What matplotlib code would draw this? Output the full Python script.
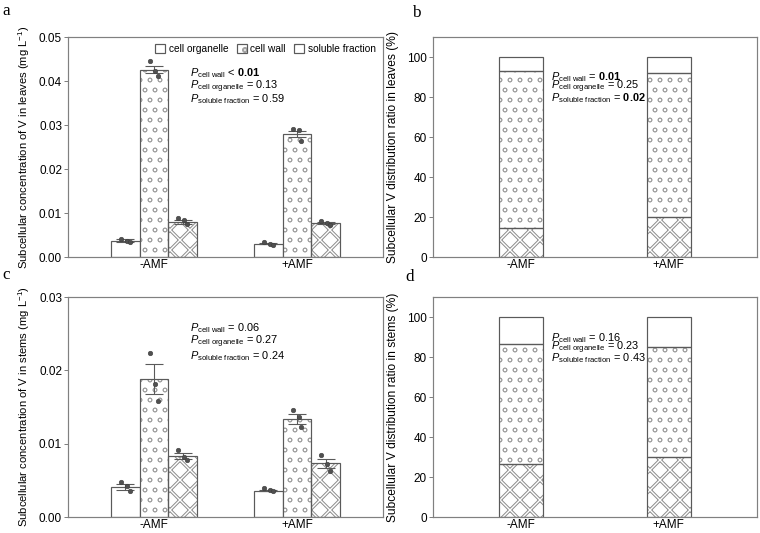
import numpy as np
import matplotlib
matplotlib.use("Agg")
import matplotlib.pyplot as plt
from matplotlib.legend_handler import HandlerTuple

plt.rcParams['font.family'] = ['Liberation Sans', 'DejaVu Sans']
plt.rcParams['mathtext.fontset'] = 'custom'
plt.rcParams['mathtext.rm'] = 'Liberation Sans'
plt.rcParams['mathtext.it'] = 'Liberation Sans:italic'
plt.rcParams['mathtext.bf'] = 'Liberation Sans:bold'

# ---------------- data ----------------
groups = ["-AMF", "+AMF"]
fractions = ["cell organelle", "cell wall", "soluble fraction"]

# panel a: leaves concentration (mg/L)
leaf_organelle = [0.0037, 0.0030]
leaf_wall = [0.0426, 0.0280]
leaf_soluble = [0.0080, 0.0077]
leaf_organelle_se = [0.0003, 0.0001]
leaf_wall_se = [0.0008, 0.0007]
leaf_soluble_se = [0.0004, 0.0002]
leaf_organelle_pts = [[0.0040, 0.0037, 0.0035], [0.0034, 0.0030, 0.0028]]
leaf_wall_pts = [[0.0445, 0.0422, 0.0411], [0.0292, 0.0289, 0.0264]]
leaf_soluble_pts = [[0.0088, 0.0083, 0.0075], [0.0082, 0.0078, 0.0072]]

# panel c: stems concentration (mg/L)
stem_organelle = [0.0041, 0.0036]
stem_wall = [0.0188, 0.0134]
stem_soluble = [0.0083, 0.0073]
stem_organelle_se = [0.0004, 0.0001]
stem_wall_se = [0.0020, 0.0007]
stem_soluble_se = [0.0004, 0.0006]
stem_organelle_pts = [[0.0048, 0.0042, 0.0035], [0.0039, 0.0037, 0.0035]]
stem_wall_pts = [[0.0224, 0.0181, 0.0158], [0.0146, 0.0136, 0.0123]]
stem_soluble_pts = [[0.0091, 0.0082, 0.0078], [0.0085, 0.0072, 0.0063]]

# panel b: leaves distribution ratio (%)
leaf_ratio_soluble = [14.5, 19.8]
leaf_ratio_wall = [78.6, 72.2]
leaf_ratio_organelle = [6.9, 8.0]

# panel d: stems distribution ratio (%)
stem_ratio_soluble = [26.6, 30.0]
stem_ratio_wall = [60.0, 55.0]
stem_ratio_organelle = [13.4, 15.0]

point_offsets = [-0.03, 0.01, 0.03]

p_a = [r"$P_{\mathrm{cell\ wall}}$ < $\mathbf{0.01}$",
       r"$P_{\mathrm{cell\ organelle}}$ = 0.13",
       r"$P_{\mathrm{soluble\ fraction}}$ = 0.59"]
p_b = [r"$P_{\mathrm{cell\ wall}}$ = $\mathbf{0.01}$",
       r"$P_{\mathrm{cell\ organelle}}$ = 0.25",
       r"$P_{\mathrm{soluble\ fraction}}$ = $\mathbf{0.02}$"]
p_c = [r"$P_{\mathrm{cell\ wall}}$ = 0.06",
       r"$P_{\mathrm{cell\ organelle}}$ = 0.27",
       r"$P_{\mathrm{soluble\ fraction}}$ = 0.24"]
p_d = [r"$P_{\mathrm{cell\ wall}}$ = 0.16",
       r"$P_{\mathrm{cell\ organelle}}$ = 0.23",
       r"$P_{\mathrm{soluble\ fraction}}$ = 0.43"]

# ---------------- style ----------------
DPI = 120
W, H = 760, 533


def P(px):
    """pixels -> points at the figure dpi"""
    return px * 72.0 / DPI


SPINE = '#808080'
EDGE = '#5a5a5a'
HATCH_X = '#8e8e8e'
HATCH_O = '#a4a4a4'
PT = '#505050'

fig = plt.figure(figsize=(W / DPI, H / DPI), dpi=DPI)


def ax_at(l, r, t, b):
    return fig.add_axes([l / W, (H - b) / H, (r - l) / W, (b - t) / H])


def set_hlw(patches, lw):
    for p in patches:
        if hasattr(p, 'set_hatch_linewidth'):
            p.set_hatch_linewidth(lw)


def draw_bar(ax, x, h, w, kind, bottom=None):
    if kind == 'organelle':
        b = ax.bar(x, h, w, bottom=bottom, facecolor='white', edgecolor=EDGE, linewidth=P(1.2), zorder=2)
        return (b.patches[0],)
    if kind == 'wall':
        lw = P(0.8)
        b1 = ax.bar(x, h, w, bottom=bottom, facecolor='white', edgecolor=HATCH_O, hatch='oo', linewidth=0, zorder=2)
        set_hlw(b1.patches, lw)
        b2 = ax.bar(x, h, w, bottom=bottom, facecolor='none', edgecolor=EDGE, linewidth=P(1.2), zorder=2.2)
        return (b1.patches[0], b2.patches[0])
    lw1, lw2 = P(3.4), P(1.4)
    b1 = ax.bar(x, h, w, bottom=bottom, facecolor='white', edgecolor=HATCH_X, hatch='xx', linewidth=0, zorder=2)
    set_hlw(b1.patches, lw1)
    b2 = ax.bar(x, h, w, bottom=bottom, facecolor='none', edgecolor='white', hatch='xx', linewidth=0, zorder=2.1)
    set_hlw(b2.patches, lw2)
    b3 = ax.bar(x, h, w, bottom=bottom, facecolor='none', edgecolor=EDGE, linewidth=P(1.2), zorder=2.2)
    return (b1.patches[0], b2.patches[0], b3.patches[0])


def style_axes(ax, ylim, yticks, yfmt, ylabel, lab_px, labelpad_px):
    ax.set_ylim(*ylim)
    ax.set_xlim(-0.6, 1.6)
    ax.set_yticks(yticks)
    ax.set_yticklabels([yfmt.format(v) for v in yticks])
    ax.set_xticks([0, 1])
    ax.set_xticklabels(groups)
    for s in ax.spines.values():
        s.set_color(SPINE)
        s.set_linewidth(P(1.2))
    ax.tick_params(axis='y', direction='out', length=P(4), width=P(1.0), color=SPINE,
                   labelsize=P(11.8), pad=P(2))
    ax.tick_params(axis='x', length=0, labelsize=P(11.8), pad=P(2))
    ax.set_ylabel(ylabel, fontsize=P(lab_px), labelpad=P(labelpad_px))


def conc_panel(ax, org, wall, sol, org_se, wall_se, sol_se, org_pts, wall_pts, sol_pts, legend=False):
    x = np.arange(len(groups))
    bw = 0.2
    hs = {}
    for xs, vals, se, pts, kind in [(x - bw, org, org_se, org_pts, 'organelle'),
                                      (x, wall, wall_se, wall_pts, 'wall'),
                                      (x + bw, sol, sol_se, sol_pts, 'soluble')]:
        hs[kind] = draw_bar(ax, xs, vals, bw, kind)
        ax.errorbar(xs, vals, yerr=se, fmt='none', ecolor=EDGE, elinewidth=P(1.1),
                    capsize=P(9), capthick=P(1.1), zorder=3)
        for i in range(len(xs)):
            ax.scatter(xs[i] + np.array(point_offsets), pts[i], s=P(4.6) ** 2, color=PT,
                       edgecolors='#3a3a3a', linewidths=P(0.5), zorder=4)
    if legend:
        ax.legend([hs['organelle'], hs['wall'], hs['soluble']], fractions,
                  handler_map={tuple: HandlerTuple(ndivide=1)},
                  loc='upper right', bbox_to_anchor=(1.0, 1.0), ncol=3, frameon=False,
                  fontsize=P(10.2), handlelength=1.0, handleheight=1.0, handletextpad=0.35,
                  columnspacing=0.8, borderaxespad=0.3)


def ratio_panel(ax, sol, wall, org):
    x = np.arange(len(groups))
    bw = 0.3
    sol = np.array(sol)
    wall = np.array(wall)
    org = np.array(org)
    draw_bar(ax, x, sol, bw, 'soluble')
    draw_bar(ax, x, wall, bw, 'wall', bottom=sol)
    draw_bar(ax, x, org, bw, 'organelle', bottom=sol + wall)


def p_text(ax, lines, x, ys, size_px):
    for s, y in zip(lines, ys):
        ax.text(x, y, s, transform=ax.transAxes, fontsize=P(size_px), va='baseline', ha='left', zorder=5)


# panel a
ax_a = ax_at(68, 383, 37, 257)
conc_panel(ax_a, leaf_organelle, leaf_wall, leaf_soluble, leaf_organelle_se, leaf_wall_se,
           leaf_soluble_se, leaf_organelle_pts, leaf_wall_pts, leaf_soluble_pts, legend=True)
style_axes(ax_a, (0, 0.05), [0, 0.01, 0.02, 0.03, 0.04, 0.05], "{:.2f}",
           r"Subcellular concentration of V in leaves (mg L$^{-1}$)", 11.3, 7)
p_text(ax_a, p_a, 0.387, [0.823, 0.765, 0.703], 11)

# panel b
ax_b = ax_at(433, 757, 37, 257)
ratio_panel(ax_b, leaf_ratio_soluble, leaf_ratio_wall, leaf_ratio_organelle)
style_axes(ax_b, (0, 110), [0, 20, 40, 60, 80, 100], "{:.0f}",
           "Subcellular V distribution ratio in leaves (%)", 12, 8)
p_text(ax_b, p_b, 0.364, [0.805, 0.762, 0.709], 11)

# panel c
ax_c = ax_at(68, 383, 297, 517)
conc_panel(ax_c, stem_organelle, stem_wall, stem_soluble, stem_organelle_se, stem_wall_se,
           stem_soluble_se, stem_organelle_pts, stem_wall_pts, stem_soluble_pts)
style_axes(ax_c, (0, 0.03), [0, 0.01, 0.02, 0.03], "{:.2f}",
           r"Subcellular concentration of V in stems (mg L$^{-1}$)", 11.3, 7)
p_text(ax_c, p_c, 0.387, [0.845, 0.786, 0.718], 11)

# panel d
ax_d = ax_at(433, 757, 297, 517)
ratio_panel(ax_d, stem_ratio_soluble, stem_ratio_wall, stem_ratio_organelle)
style_axes(ax_d, (0, 110), [0, 20, 40, 60, 80, 100], "{:.0f}",
           "Subcellular V distribution ratio in stems (%)", 12, 8)
p_text(ax_d, p_d, 0.364, [0.800, 0.759, 0.709], 11)

# panel letters
for lab, px, py in [("a", 2, 15), ("b", 412, 17), ("c", 2, 279), ("d", 405, 281)]:
    fig.text(px / W, 1 - py / H, lab, fontsize=P(17), family='Liberation Serif',
             ha='left', va='baseline')

fig.savefig("out.png", dpi=DPI)
